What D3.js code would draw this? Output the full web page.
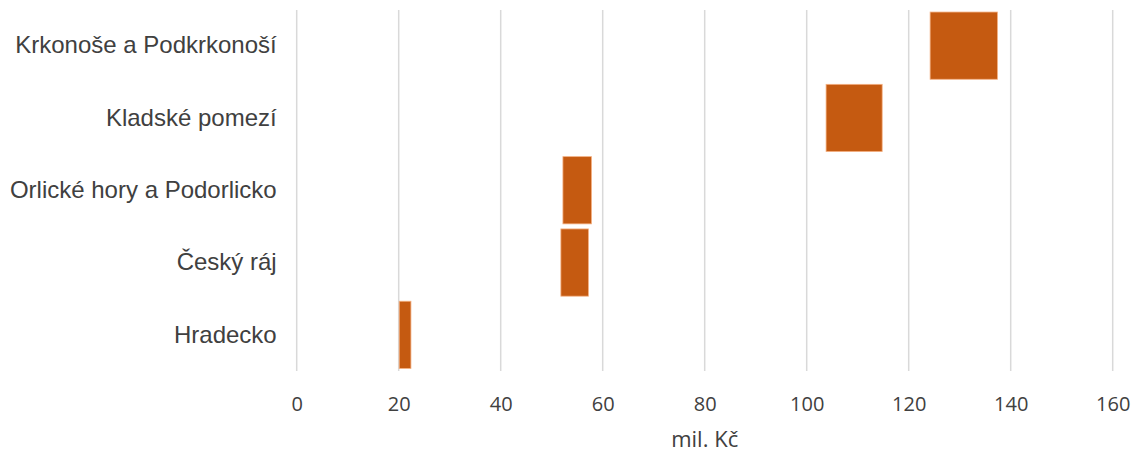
<!DOCTYPE html>
<html>
<head>
<meta charset="utf-8">
<script src="https://cdn.jsdelivr.net/npm/d3@7"></script>
<style>
  html, body { margin: 0; padding: 0; background: #fff; }
  svg { display: block; }
</style>
</head>
<body>
<svg id="chart" width="1136" height="454"></svg>
<script>
const categories = ["Krkonoše a Podkrkonoší", "Kladské pomezí", "Orlické hory a Podorlicko", "Český ráj", "Hradecko"];
const startValues = [124.2, 103.8, 52.2, 51.8, 20.1];
const endValues = [137.4, 114.8, 57.8, 57.2, 22.4];
const xTicks = [0, 20, 40, 60, 80, 100, 120, 140, 160];
const xTitle = "mil. Kč";

const svg = d3.select("#chart");
const x = d3.scaleLinear().domain([0, 160]).range([296.7, 1112.7]);
const y = d3.scaleBand().domain(categories).range([9.5, 371]).paddingInner(0.07).paddingOuter(0.035);

// gridlines
svg.append("g")
  .selectAll("line")
  .data(xTicks)
  .join("line")
  .attr("x1", d => x(d)).attr("x2", d => x(d))
  .attr("y1", 10).attr("y2", 371)
  .attr("stroke", "#d9d9d9").attr("stroke-width", 1.5);

// bars
svg.append("g")
  .selectAll("rect")
  .data(categories)
  .join("rect")
  .attr("x", (d, i) => x(startValues[i]))
  .attr("width", (d, i) => x(endValues[i]) - x(startValues[i]))
  .attr("y", d => y(d))
  .attr("height", y.bandwidth())
  .attr("fill", "#C55A11")
  .attr("stroke", "#F4B183")
  .attr("stroke-width", 0.8);

// x axis
const xAxis = svg.append("g")
  .attr("transform", "translate(0,371)")
  .attr("font-family", "'Open Sans', sans-serif")
  .attr("font-size", 20)
  .call(d3.axisBottom(x).tickValues(xTicks).tickSize(0).tickPadding(0));
xAxis.select(".domain").remove();
xAxis.selectAll("text")
  .attr("y", 40)
  .attr("dy", null)
  .attr("font-family", "'Open Sans', sans-serif")
  .attr("font-size", 20)
  .attr("fill", "#404040");

// y axis labels
const yAxis = svg.append("g")
  .attr("transform", "translate(296.7,0)")
  .attr("font-family", "'Liberation Sans', Arial, sans-serif")
  .attr("font-size", 24)
  .call(d3.axisLeft(y).tickSize(0).tickPadding(20));
yAxis.select(".domain").remove();
yAxis.selectAll("text")
  .attr("font-family", "'Liberation Sans', Arial, sans-serif")
  .attr("font-size", 24)
  .attr("fill", "#404040");

// axis title
svg.append("text")
  .attr("x", x(80))
  .attr("y", 447)
  .attr("text-anchor", "middle")
  .attr("font-family", "'Open Sans', sans-serif")
  .attr("font-size", 22)
  .attr("fill", "#404040")
  .text(xTitle);
</script>
</body>
</html>
